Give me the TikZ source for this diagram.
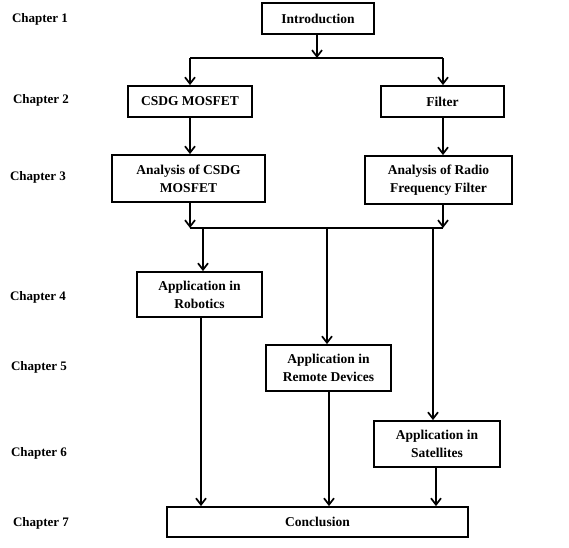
\documentclass[tikz,border=0pt]{standalone}
\usepackage{fontspec}
\setmainfont{Liberation Serif}
\usetikzlibrary{arrows.meta}
\begin{document}
\begin{tikzpicture}[x=1pt,y=-1pt,
  box/.style={draw,line width=1.8pt,inner sep=0pt,align=center,font=\fontsize{13.5}{18}\selectfont\bfseries},
  chap/.style={font=\fontsize{13}{15}\selectfont\bfseries,inner sep=0pt},
  link/.style={line width=1.7pt},
  arr/.style={line width=1.7pt,-{Straight Barb[length=6.5pt,width=10pt,line width=1.7pt]}}]
\useasboundingbox (0,0) rectangle (569,547);
% chapter labels
\node[chap] (c1) at (40,19) {Chapter 1};
\node[chap] (c2) at (41,100) {Chapter 2};
\node[chap] (c3) at (38,177) {Chapter 3};
\node[chap] (c4) at (38,297) {Chapter 4};
\node[chap] (c5) at (39,367) {Chapter 5};
\node[chap] (c6) at (39,453) {Chapter 6};
\node[chap] (c7) at (41,523) {Chapter 7};
% boxes
\node[box,minimum width=112,minimum height=31] (intro) at (318,18.5) {Introduction};
\node[box,minimum width=124,minimum height=31] (csdg) at (190,101.5) {CSDG MOSFET};
\node[box,minimum width=123,minimum height=31] (filt) at (442.5,101.5) {Filter};
\node[box,minimum width=153,minimum height=47] (acsdg) at (188.5,178.5) {Analysis of CSDG\\MOSFET};
\node[box,minimum width=147,minimum height=48] (arf) at (438.5,180) {Analysis of Radio\\Frequency Filter};
\node[box,minimum width=125,minimum height=45] (rob) at (199.5,294.5) {Application in\\Robotics};
\node[box,minimum width=125,minimum height=46] (rem) at (328.5,368) {Application in\\Remote Devices};
\node[box,minimum width=126,minimum height=46] (sat) at (437,444) {Application in\\Satellites};
\node[box,minimum width=301,minimum height=30] (conc) at (317.5,522) {Conclusion};
% junctions
\coordinate (j1) at (317,58);
\coordinate (j1l) at (190,58);
\coordinate (j1r) at (443,58);
\coordinate (j2l) at (190,228);
\coordinate (j2r) at (443,228);
\coordinate (j2a) at (203,228);
\coordinate (j2b) at (327,228);
\coordinate (j2c) at (433,228);
% connectors
\draw[arr] (intro.south -| j1) -- (j1);
\draw[link] (j1l) -- (j1r);
\draw[arr] (j1l) -- (j1l |- csdg.north);
\draw[arr] (j1r) -- (j1r |- filt.north);
\draw[arr] (csdg.south -| j1l) -- (j1l |- acsdg.north);
\draw[arr] (filt.south -| j1r) -- (j1r |- arf.north);
\draw[arr] (acsdg.south -| j2l) -- (j2l);
\draw[arr] (arf.south -| j2r) -- (j2r);
\draw[link] (j2l) -- (j2r);
\draw[arr] (j2a) -- (j2a |- rob.north);
\draw[arr] (j2b) -- (j2b |- rem.north);
\draw[arr] (j2c) -- (j2c |- sat.north);
\draw[arr] (rob.south -| 201,0) -- (201,0 |- conc.north);
\draw[arr] (rem.south -| 329,0) -- (329,0 |- conc.north);
\draw[arr] (sat.south -| 436,0) -- (436,0 |- conc.north);
\end{tikzpicture}
\end{document}
